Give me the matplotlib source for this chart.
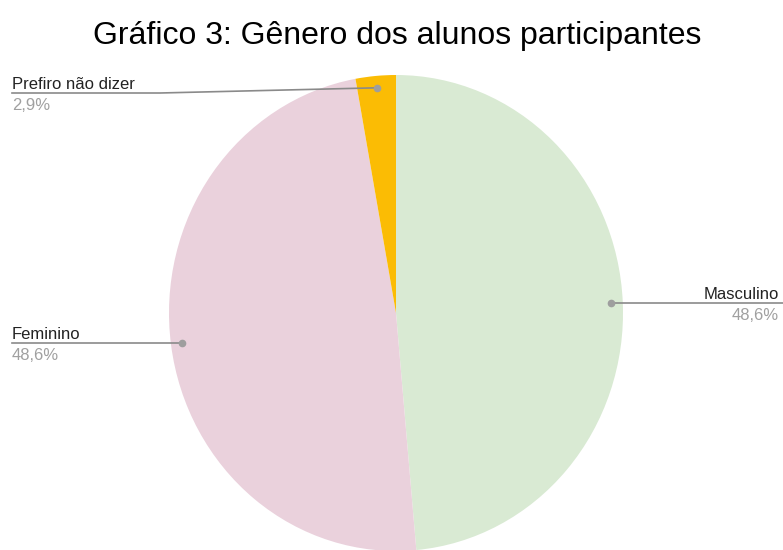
import matplotlib
matplotlib.use("Agg")
import matplotlib.pyplot as plt
from matplotlib.lines import Line2D
import numpy as np

plt.rcParams['font.family'] = ['Liberation Sans', 'DejaVu Sans']

categories = ["Masculino", "Feminino", "Prefiro não dizer"]
counts = [17, 17, 1]
colors = ["#d9ead3", "#ead1dc", "#fbbc04"]
title = "Gráfico 3: Gênero dos alunos participantes"

W, H = 783, 550
fig = plt.figure(figsize=(W / 100, H / 100), dpi=100)

def fx(x):
    return x / W

def fy(y):
    return 1 - y / H

# axes box in pixels (pie is slightly stretched vertically in the reference)
left, right, top, bottom = 169, 623, 75, 551
ax = fig.add_axes([fx(left), fy(bottom), (right - left) / W, (bottom - top) / H])
wedges, _ = ax.pie(counts, colors=colors, startangle=90, counterclock=False,
                   wedgeprops=dict(linewidth=0))
ax.set_aspect('auto')
ax.set_xlim(-1, 1)
ax.set_ylim(-1, 1)
ax.axis('off')

fig.text(0.507, fy(44), title, ha='center', va='baseline', fontsize=23, color='#000000')

total = sum(counts)
pcts = [f"{100 * c / total:.1f}".replace('.', ',') + "%" for c in counts]

inv = fig.transFigure.inverted()

def dot_pos(w):
    th = np.deg2rad((w.theta1 + w.theta2) / 2)
    p = ax.transData.transform((0.95 * np.cos(th), 0.95 * np.sin(th)))
    return inv.transform(p)

line_col = '#8a8a8a'
dot_col = '#9e9e9e'
lab_col = '#222222'
pct_col = '#a0a0a0'
fs = 12

def labels(x, ly, ha, name, pct):
    fig.text(x, ly + 4 / H, name, ha=ha, va='baseline', fontsize=fs, color=lab_col)
    fig.text(x, ly - 17 / H, pct, ha=ha, va='baseline', fontsize=fs, color=pct_col)

# Masculino (right side)
d = dot_pos(wedges[0])
ly = d[1]
fig.add_artist(Line2D([d[0], 1.0], [ly, ly], color=line_col, lw=1.2, transform=fig.transFigure))
fig.add_artist(Line2D([d[0]], [ly], marker='o', ms=4.5, color=dot_col, transform=fig.transFigure))
labels(fx(779), ly, 'right', categories[0], pcts[0])

# Feminino (left side)
d = dot_pos(wedges[1])
ly = d[1]
fig.add_artist(Line2D([fx(12), d[0]], [ly, ly], color=line_col, lw=1.2, transform=fig.transFigure))
fig.add_artist(Line2D([d[0]], [ly], marker='o', ms=4.5, color=dot_col, transform=fig.transFigure))
labels(fx(12), ly, 'left', categories[1], pcts[1])

# Prefiro não dizer (top left)
d = dot_pos(wedges[2])
ly = fy(93)
fig.add_artist(Line2D([fx(12), fx(160), d[0]], [ly, ly, d[1]], color=line_col, lw=1.2,
                      transform=fig.transFigure))
fig.add_artist(Line2D([d[0]], [d[1]], marker='o', ms=4.5, color=dot_col, transform=fig.transFigure))
labels(fx(12), ly, 'left', categories[2], pcts[2])

fig.savefig("out.png", dpi=100, facecolor='white')
